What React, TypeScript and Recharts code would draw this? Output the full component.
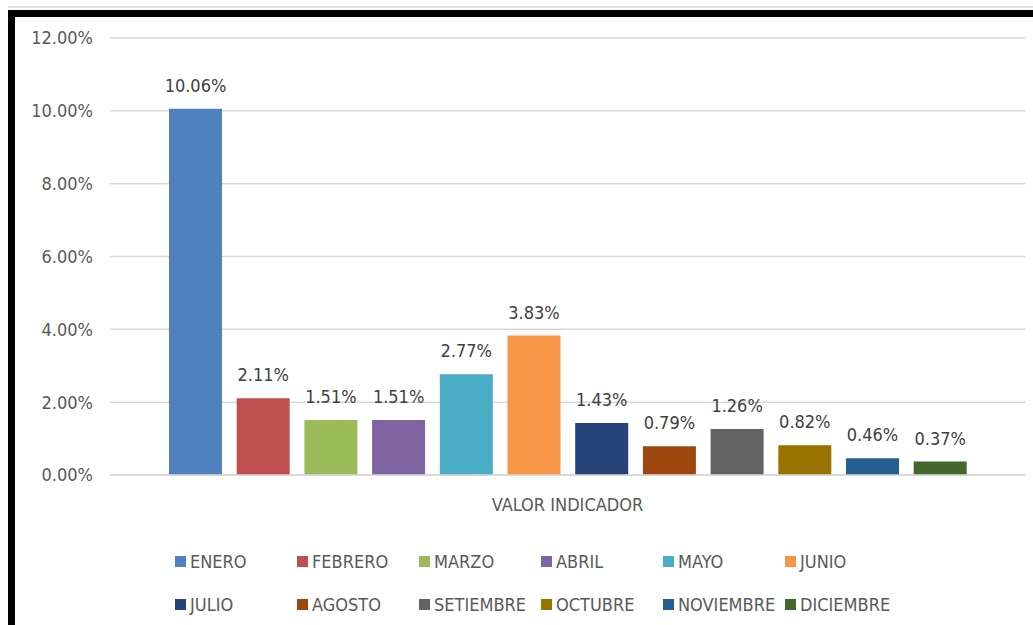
import { Bar, BarChart, CartesianGrid, LabelList, Legend, XAxis, YAxis } from "recharts";

const categories = ["VALOR INDICADOR"];

const months = [
  "ENERO",
  "FEBRERO",
  "MARZO",
  "ABRIL",
  "MAYO",
  "JUNIO",
  "JULIO",
  "AGOSTO",
  "SETIEMBRE",
  "OCTUBRE",
  "NOVIEMBRE",
  "DICIEMBRE",
];

// valores en porcentaje
const values = [10.06, 2.11, 1.51, 1.51, 2.77, 3.83, 1.43, 0.79, 1.26, 0.82, 0.46, 0.37];

const colors = [
  "#4f81bd",
  "#c0504d",
  "#9bbb59",
  "#8064a2",
  "#4bacc6",
  "#f79646",
  "#264478",
  "#9e480e",
  "#636363",
  "#997300",
  "#255e91",
  "#43682b",
];

const yTicks = [0, 2, 4, 6, 8, 10, 12];

const FONT = "'Liberation Sans Narrow', 'DejaVu Sans Condensed', sans-serif";

const data = categories.map((name) => {
  const row: Record<string, string | number> = { name };
  months.forEach((m, i) => {
    row[m] = values[i];
  });
  return row;
});

const pct = (v: number) => `${Number(v).toFixed(2)}%`;

function MonthLegend() {
  return (
    <div
      style={{
        display: "grid",
        gridTemplateColumns: "repeat(6, 122px)",
        paddingLeft: 175,
        paddingTop: 15,
        fontFamily: FONT,
        fontSize: 18,
        color: "#595959",
      }}
    >
      {months.map((m, i) => (
        <div key={m} style={{ display: "flex", alignItems: "center", height: 43, whiteSpace: "nowrap" }}>
          <span
            style={{
              display: "inline-block",
              width: 11,
              height: 11,
              background: colors[i],
              marginRight: 4,
            }}
          />
          {m}
        </div>
      ))}
    </div>
  );
}

export default function App() {
  return (
    <div
      style={{
        position: "absolute",
        left: 0,
        top: 0,
        width: 1033,
        height: 625,
        background: "#fff",
        overflow: "hidden",
      }}
    >
      {/* borde gris fino y marco negro del recorte original */}
      <div style={{ position: "absolute", left: 8, top: 6, width: 1030, height: 2, background: "#e4e4e4" }} />
      <div
        style={{
          position: "absolute",
          left: 8,
          top: 10,
          width: 1040,
          height: 640,
          borderLeft: "7px solid #000",
          borderTop: "7px solid #000",
          boxSizing: "border-box",
        }}
      />
      <div style={{ position: "absolute", left: 0, top: 0 }}>
        <BarChart
          width={1033}
          height={625}
          data={data}
          margin={{ top: 38, right: 8, bottom: 10, left: 0 }}
          barSize={53}
          barGap={14.7}
        >
          <CartesianGrid vertical={false} stroke="#d9d9d9" strokeWidth={1.5} />
          <XAxis
            dataKey="name"
            height={50}
            tickLine={false}
            tickSize={0}
            tickMargin={23}
            axisLine={{ stroke: "#d9d9d9", strokeWidth: 1.5 }}
            tick={{ fontFamily: FONT, fontSize: 18, fill: "#595959" }}
          />
          <YAxis
            width={110}
            domain={[0, 12]}
            ticks={yTicks}
            tickFormatter={pct}
            axisLine={false}
            tickLine={false}
            tickSize={0}
            tickMargin={17}
            tick={{ fontFamily: FONT, fontSize: 18, fill: "#595959" }}
          />
          <Legend
            verticalAlign="bottom"
            height={90}
            content={() => <MonthLegend />}
            wrapperStyle={{ left: 0, width: 1033 }}
          />
          {months.map((m, i) => (
            <Bar key={m} dataKey={m} fill={colors[i]} isAnimationActive={false}>
              <LabelList
                dataKey={m}
                position="top"
                offset={17}
                formatter={(v: number) => pct(v)}
                style={{ fontFamily: FONT, fontSize: 18, fill: "#404040" }}
              />
            </Bar>
          ))}
        </BarChart>
      </div>
    </div>
  );
}
